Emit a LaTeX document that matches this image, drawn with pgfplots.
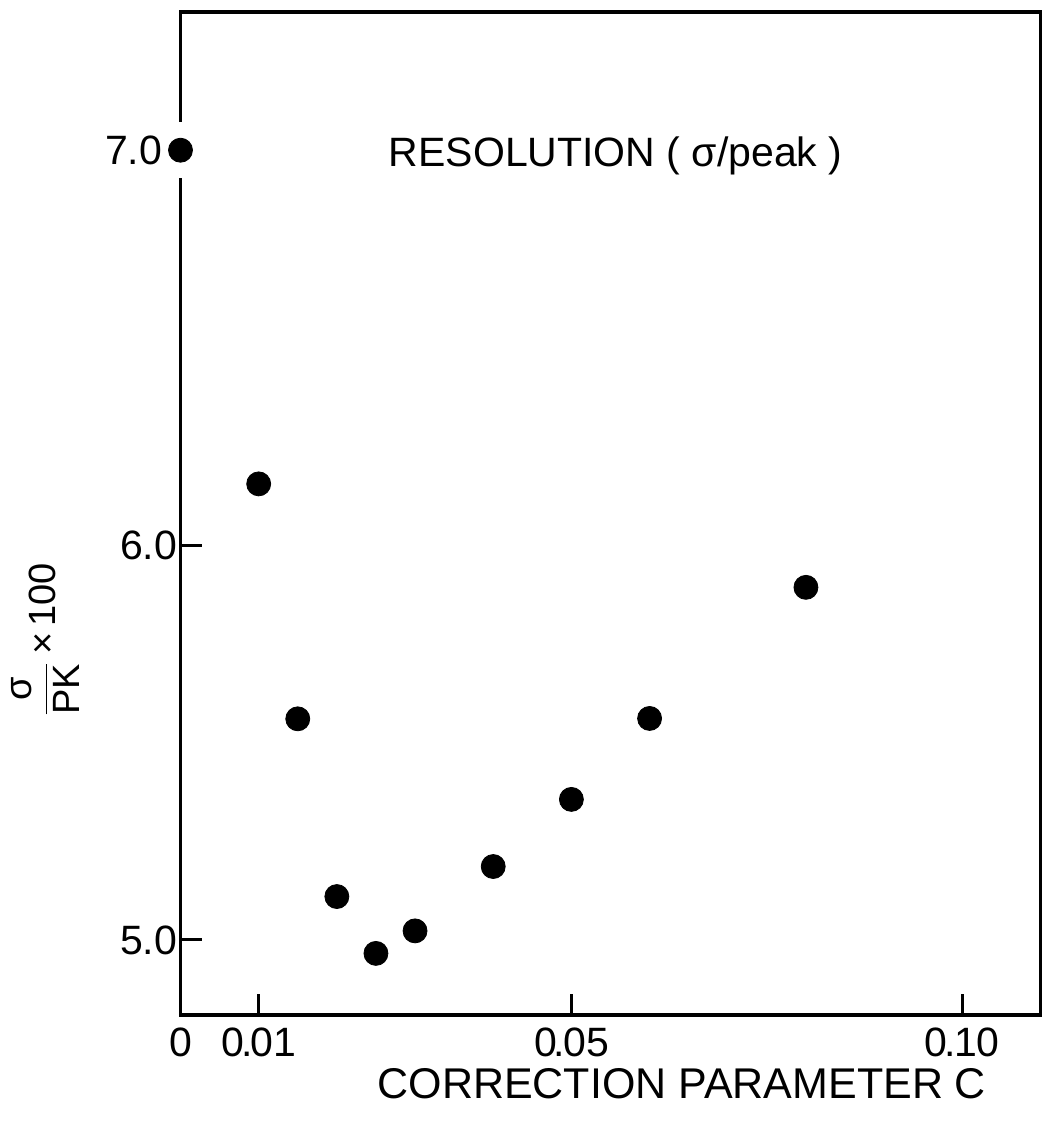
\documentclass[border=0pt]{standalone}
\usepackage{pgfplots}
\pgfplotsset{compat=1.18}
\usepackage{fontspec}
\setmainfont{Liberation Sans}

\pgfplotstableread{
c     r
0.000 7.000
0.010 6.155
0.015 5.560
0.020 5.110
0.025 4.966
0.030 5.023
0.040 5.186
0.050 5.356
0.060 5.561
0.080 5.893
}\resdata

\begin{document}
\begin{tikzpicture}
\begin{axis}[
  scale only axis, width=430pt, height=501.5pt,
  xmin=0, xmax=0.11, ymin=4.81, ymax=7.35,
  axis line style={line width=1.8pt},
  xtick={0,0.01,0.05,0.10},
  xticklabels={0, {0\kern-1.5pt.\kern-1pt01}, {0\kern-1.5pt.\kern-1pt05}, {0\kern-1.5pt.\kern-1pt10}},
  ytick={5,6}, yticklabels={5.0,6.0},
  extra y ticks={7}, extra y tick labels={7.0},
  extra y tick style={major tick length=0pt, yticklabel style={inner sep=9pt}},
  tick align=inside, major tick length=10.5pt,
  tick style={line width=1.5pt, black},
  xtick pos=bottom, ytick pos=left,
  ticklabel style={font=\fontsize{20.5}{24}\selectfont},
  yticklabel style={inner sep=1.5pt},
  xticklabel style={inner sep=6pt},
  clip=false,
  every axis x label/.style={at={(rel axis cs:0.583,-0.068)}, anchor=center, font=\fontsize{21.5}{26}\selectfont},
  every axis y label/.style={at={(rel axis cs:-0.157,0.374)}, anchor=center, rotate=90, font=\fontsize{19}{23}\selectfont},
  xlabel={CORRECTION PARAMETER C},
  ylabel={$\displaystyle\frac{\mbox{σ}}{\mbox{PK}}\mbox{\,×\,100}$},
]
\addplot[only marks, mark=|, mark size=14pt, mark options={draw=white, line width=4pt}] coordinates {(0,7.0)};
\addplot[only marks, mark=*, mark size=6pt, mark options={draw=black, fill=black}] table[x=c, y=r] {\resdata};
\node[font=\fontsize{20.5}{24}\selectfont] at (rel axis cs:0.506,0.857) {RESOLUTION ( σ/peak )};
\end{axis}
\path ([xshift=-90.25pt, yshift=-60.5pt]current axis.south west) rectangle ([xshift=7.5pt, yshift=6pt]current axis.north east);
\end{tikzpicture}
\end{document}
